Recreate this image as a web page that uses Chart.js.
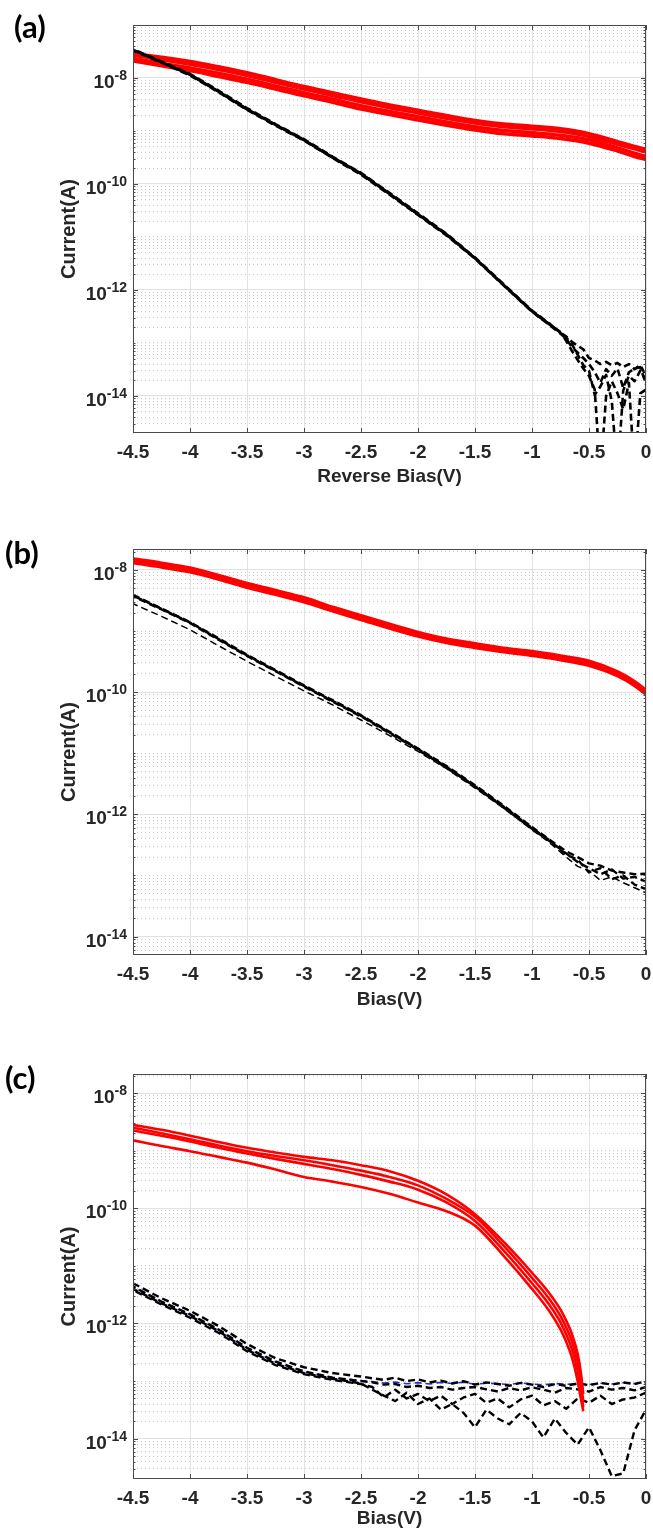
<!DOCTYPE html>
<html>
<head>
<meta charset="utf-8">
<title>Dark and photo current vs bias</title>
<script src="https://cdn.jsdelivr.net/npm/chart.js@4.4.1/dist/chart.umd.min.js"></script>
<style>
  html, body { margin: 0; padding: 0; background: #fff; }
  #page { position: relative; width: 653px; height: 1538px; overflow: hidden; background: #fff; }
  canvas { position: absolute; left: 0; }
  .tag { position: absolute; z-index: 2; font-family: Lato, "Open Sans", sans-serif; font-weight: 700;
         font-size: 31px; line-height: 31px; color: #000; }
</style>
</head>
<body>
<div id="page">
  <canvas id="panelA" width="653" height="500" style="top:0px"></canvas>
  <canvas id="panelB" width="653" height="520" style="top:500px"></canvas>
  <canvas id="panelC" width="653" height="518" style="top:1020px"></canvas>
  <div class="tag" style="left:14px;top:11px">(a)</div>
  <div class="tag" style="left:5px;top:537px">(b)</div>
  <div class="tag" style="left:5px;top:1062px">(c)</div>
</div>
<script>
// ---- axis ticks ----
const biasTicks = [-4.5, -4, -3.5, -3, -2.5, -2, -1.5, -1, -0.5, 0];
const labelledDecades = [-14, -12, -10, -8];

// ---- panel (a): reverse bias sweep ----
const biasPhoto = [-4.5, -4.25, -4, -3.75, -3.5, -3.25, -3, -2.75, -2.5, -2.25, -2, -1.75, -1.5, -1.25, -1, -0.75, -0.5, -0.25, -0.1, 0];
const photoA1 = [2.9e-8, 2.45e-8, 2.04e-8, 1.62e-8, 1.26e-8, 9.3e-9, 6.9e-9, 5.25e-9, 4.0e-9, 3.1e-9, 2.45e-9, 1.95e-9, 1.58e-9, 1.35e-9, 1.23e-9, 1.1e-9, 8.9e-10, 6.3e-10, 5.1e-10, 4.5e-10];
const photoA2 = [2.7e-8, 2.24e-8, 1.82e-8, 1.45e-8, 1.12e-8, 8.3e-9, 6.2e-9, 4.7e-9, 3.55e-9, 2.75e-9, 2.19e-9, 1.74e-9, 1.41e-9, 1.2e-9, 1.1e-9, 9.8e-10, 7.9e-10, 5.6e-10, 4.6e-10, 4.0e-10];
const photoA3 = [2.34e-8, 1.9e-8, 1.55e-8, 1.23e-8, 9.5e-9, 7.1e-9, 5.25e-9, 4.0e-9, 3.0e-9, 2.34e-9, 1.86e-9, 1.48e-9, 1.2e-9, 1.02e-9, 9.3e-10, 8.3e-10, 6.8e-10, 4.8e-10, 3.8e-10, 3.3e-10];
const photoA4 = [2.1e-8, 1.7e-8, 1.38e-8, 1.07e-8, 8.3e-9, 6.2e-9, 4.6e-9, 3.5e-9, 2.6e-9, 2.04e-9, 1.62e-9, 1.29e-9, 1.05e-9, 8.9e-10, 8.1e-10, 7.2e-10, 5.9e-10, 4.2e-10, 3.3e-10, 2.9e-10];

const biasDarkA = [-4.5, -4.25, -4, -3.75, -3.5, -3.25, -3, -2.75, -2.5, -2.25, -2, -1.75, -1.5, -1.25, -1, -0.85, -0.75,
                   -0.7, -0.65, -0.6, -0.55, -0.5, -0.45, -0.4, -0.35, -0.3, -0.25, -0.2, -0.15, -0.1, -0.05, 0];
const darkA1 = [3.4e-8, 2.0e-8, 1.17e-8, 5.6e-9, 2.6e-9, 1.32e-9, 6.8e-10, 3.2e-10, 1.58e-10, 6.6e-11, 2.7e-11, 1.12e-11, 4.0e-12, 1.26e-12, 4.0e-13, 2.3e-13, 1.58e-13,
                1.32e-13, 1.05e-13, 8.9e-14, 7.6e-14, 5.2e-14, 4.7e-14, 4.0e-14, 4.4e-14, 3.8e-14, 4.2e-14, 3.5e-14, 4.0e-14, 3.2e-14, 3.8e-14, 2.4e-14];
const darkA2 = [3.3e-8, 1.95e-8, 1.12e-8, 5.4e-9, 2.5e-9, 1.26e-9, 6.6e-10, 3.1e-10, 1.5e-10, 6.3e-11, 2.6e-11, 1.07e-11, 3.9e-12, 1.22e-12, 3.9e-13, 2.2e-13, 1.5e-13,
                1.2e-13, 8.3e-14, 6.6e-14, 5.2e-14, 4.0e-14, 2.8e-14, 1.78e-14, 3.2e-14, 2.4e-14, 3.3e-14, 1.41e-14, 2.8e-14, 3.3e-14, 3.5e-14, 1.66e-14];
const darkA3 = [3.5e-8, 2.05e-8, 1.2e-8, 5.8e-9, 2.7e-9, 1.35e-9, 7.0e-10, 3.3e-10, 1.62e-10, 6.8e-11, 2.8e-11, 1.15e-11, 4.1e-12, 1.3e-12, 4.1e-13, 2.35e-13, 1.55e-13,
                1.1e-13, 7.1e-14, 4.8e-14, 3.3e-14, 2.4e-14, 1.32e-14, 3.2e-16, 1.0e-14, 1.9e-14, 1.12e-14, 5.6e-15, 1.78e-14, 3.2e-16, 1.12e-14, 1.32e-14];
const darkA4 = [3.4e-8, 1.98e-8, 1.15e-8, 5.5e-9, 2.55e-9, 1.3e-9, 6.7e-10, 3.15e-10, 1.55e-10, 6.5e-11, 2.65e-11, 1.1e-11, 3.95e-12, 1.24e-12, 3.95e-13, 2.25e-13, 1.6e-13,
                1.26e-13, 9.5e-14, 6.0e-14, 3.8e-14, 3.0e-14, 1.05e-14, 1.51e-14, 2.5e-14, 7.9e-15, 3.2e-16, 1.26e-14, 2.4e-14, 1.9e-14, 3.0e-14, 2.0e-14];

// ---- panel (b) ----
const photoB1 = [1.51e-8, 1.29e-8, 1.07e-8, 8.1e-9, 6.0e-9, 4.6e-9, 3.5e-9, 2.45e-9, 1.78e-9, 1.29e-9, 9.5e-10, 7.4e-10, 6.2e-10, 5.2e-10, 4.6e-10, 3.9e-10, 3.2e-10, 2.14e-10, 1.48e-10, 1.07e-10];
const photoB2 = [1.41e-8, 1.2e-8, 1.0e-8, 7.6e-9, 5.6e-9, 4.3e-9, 3.2e-9, 2.3e-9, 1.66e-9, 1.2e-9, 8.9e-10, 6.9e-10, 5.75e-10, 4.9e-10, 4.3e-10, 3.6e-10, 2.95e-10, 2.0e-10, 1.38e-10, 1.0e-10];
const photoB3 = [1.32e-8, 1.12e-8, 9.3e-9, 7.1e-9, 5.2e-9, 4.0e-9, 3.0e-9, 2.14e-9, 1.55e-9, 1.12e-9, 8.3e-10, 6.5e-10, 5.4e-10, 4.6e-10, 4.0e-10, 3.4e-10, 2.75e-10, 1.86e-10, 1.29e-10, 9.3e-11];

const biasDarkB = [-4.5, -4.25, -4, -3.75, -3.5, -3.25, -3, -2.75, -2.5, -2.25, -2, -1.75, -1.5, -1.25, -1, -0.85,
                   -0.7, -0.6, -0.5, -0.4, -0.3, -0.2, -0.1, 0];
const darkB1 = [3.9e-9, 2.35e-9, 1.4e-9, 7.6e-10, 4.1e-10, 2.3e-10, 1.29e-10, 7.4e-11, 4.2e-11, 2.25e-11, 1.2e-11, 6.2e-12, 3.0e-12, 1.4e-12, 6.2e-13, 3.9e-13,
                2.5e-13, 2.0e-13, 1.58e-13, 1.45e-13, 1.2e-13, 1.12e-13, 1.05e-13, 1.07e-13];
const darkB2 = [3.7e-9, 2.25e-9, 1.35e-9, 7.2e-10, 3.9e-10, 2.2e-10, 1.23e-10, 7.0e-11, 4.0e-11, 2.14e-11, 1.14e-11, 5.8e-12, 2.85e-12, 1.3e-12, 5.8e-13, 3.7e-13,
                2.3e-13, 1.66e-13, 1.32e-13, 1.05e-13, 1.26e-13, 8.9e-14, 9.5e-14, 7.9e-14];
const darkB3 = [3.8e-9, 2.3e-9, 1.38e-9, 7.4e-10, 4.0e-10, 2.24e-10, 1.26e-10, 7.2e-11, 4.1e-11, 2.19e-11, 1.17e-11, 6.0e-12, 2.9e-12, 1.35e-12, 6.0e-13, 3.8e-13,
                2.19e-13, 1.82e-13, 1.12e-13, 1.32e-13, 8.7e-14, 1.0e-13, 7.1e-14, 6.0e-14];
const darkB4 = [2.8e-9, 1.74e-9, 1.05e-9, 5.75e-10, 3.2e-10, 1.82e-10, 1.05e-10, 6.2e-11, 3.5e-11, 1.95e-11, 1.07e-11, 5.6e-12, 2.7e-12, 1.26e-12, 5.6e-13, 3.5e-13,
                2.0e-13, 1.41e-13, 1.2e-13, 8.3e-14, 9.5e-14, 7.6e-14, 6.3e-14, 5.2e-14];

// ---- panel (c) ----
const biasPhotoC = [-4.5, -4.25, -4, -3.75, -3.5, -3.25, -3, -2.75, -2.5, -2.25, -2, -1.75, -1.5, -1.25, -1, -0.85, -0.75, -0.7, -0.65, -0.6, -0.57, -0.55];
const photoC1 = [2.8e-9, 2.3e-9, 1.82e-9, 1.41e-9, 1.12e-9, 9.3e-10, 7.8e-10, 6.8e-10, 5.6e-10, 4.4e-10, 3.0e-10, 1.74e-10, 7.9e-11, 2.63e-11, 7.6e-12, 3.39e-12, 1.74e-12, 1.12e-12, 6.6e-13, 3.0e-13, 1.35e-13, 6.0e-14];
const photoC2 = [2.5e-9, 2.0e-9, 1.58e-9, 1.23e-9, 9.8e-10, 8.1e-10, 6.8e-10, 5.6e-10, 4.5e-10, 3.5e-10, 2.5e-10, 1.45e-10, 7.1e-11, 2.24e-11, 6.2e-12, 2.7e-12, 1.35e-12, 8.5e-13, 4.9e-13, 2.14e-13, 9.3e-14, 4.4e-14];
const photoC3 = [2.24e-9, 1.82e-9, 1.45e-9, 1.12e-9, 8.9e-10, 7.2e-10, 5.9e-10, 4.8e-10, 3.8e-10, 2.9e-10, 2.1e-10, 1.26e-10, 6.0e-11, 1.86e-11, 5.0e-12, 2.14e-12, 1.05e-12, 6.5e-13, 3.6e-13, 1.51e-13, 6.6e-14, 3.5e-14];
const photoC4 = [1.51e-9, 1.2e-9, 9.8e-10, 7.8e-10, 6.2e-10, 4.7e-10, 3.5e-10, 2.9e-10, 2.34e-10, 1.78e-10, 1.26e-10, 8.9e-11, 5.0e-11, 1.51e-11, 4.0e-12, 1.66e-12, 7.9e-13, 4.8e-13, 2.57e-13, 1.02e-13, 4.8e-14, 3.0e-14];

const biasDarkC = [-4.5, -4.25, -4, -3.75, -3.5, -3.25, -3, -2.75, -2.5,
                   -2.4, -2.3, -2.2, -2.1, -2, -1.9, -1.8, -1.7, -1.6, -1.5, -1.4, -1.3, -1.2, -1.1, -1, -0.9, -0.8, -0.7, -0.6, -0.5, -0.4, -0.3, -0.2, -0.1, 0];
const darkC1 = [5.0e-12, 2.75e-12, 1.66e-12, 9.1e-13, 4.4e-13, 2.5e-13, 1.74e-13, 1.38e-13, 1.2e-13,
                1.12e-13, 1.05e-13, 1.15e-13, 1.0e-13, 1.07e-13, 9.5e-14, 1.02e-13, 9.1e-14, 1.0e-13, 8.7e-14, 9.5e-14, 8.9e-14, 8.3e-14, 9.3e-14, 8.7e-14, 7.9e-14, 8.9e-14, 8.3e-14, 9.1e-14, 8.5e-14, 9.3e-14, 8.7e-14, 9.5e-14, 8.9e-14, 1.0e-13];
const darkC2 = [4.4e-12, 2.4e-12, 1.45e-12, 7.9e-13, 3.8e-13, 2.19e-13, 1.48e-13, 1.15e-13, 1.0e-13,
                9.5e-14, 8.7e-14, 8.9e-14, 7.9e-14, 8.3e-14, 7.6e-14, 7.9e-14, 7.1e-14, 7.6e-14, 7.9e-14, 7.2e-14, 6.6e-14, 7.6e-14, 6.9e-14, 7.8e-14, 7.1e-14, 6.3e-14, 7.6e-14, 7.2e-14, 6.6e-14, 7.9e-14, 7.1e-14, 7.6e-14, 6.9e-14, 7.9e-14];
const darkC3 = [3.8e-12, 2.14e-12, 1.26e-12, 6.9e-13, 3.3e-13, 1.9e-13, 1.32e-13, 1.05e-13, 8.9e-14,
                7.9e-14, 5.2e-14, 7.1e-14, 5.0e-14, 6.0e-14, 4.5e-14, 5.6e-14, 4.0e-14, 5.2e-14, 6.0e-14, 4.2e-14, 5.0e-14, 3.5e-14, 4.8e-14, 5.6e-14, 3.8e-14, 4.5e-14, 3.3e-14, 5.0e-14, 4.2e-14, 5.6e-14, 4.0e-14, 4.8e-14, 5.2e-14, 6.3e-14];
const darkC4 = [4.0e-12, 2.24e-12, 1.35e-12, 7.4e-13, 3.5e-13, 2.0e-13, 1.38e-13, 1.1e-13, 9.1e-14,
                7.1e-14, 5.6e-14, 4.5e-14, 6.3e-14, 4.0e-14, 5.0e-14, 3.2e-14, 4.0e-14, 2.8e-14, 1.58e-14, 3.2e-14, 2.24e-14, 1.78e-14, 2.8e-14, 2.0e-14, 1.05e-14, 2.24e-14, 1.26e-14, 7.9e-15, 1.58e-14, 6.3e-15, 2.24e-15, 2.5e-15, 1.41e-14, 3.2e-14];
const darkC5 = [4.3e-12, 2.4e-12, 1.42e-12, 7.8e-13, 3.7e-13, 2.15e-13, 1.45e-13, 1.15e-13, 1.02e-13,
                9.8e-14, 9.3e-14, 9.6e-14, 9.0e-14, 9.4e-14, 8.9e-14, 9.5e-14, 9.1e-14, 9.6e-14, 8.8e-14, 9.2e-14, 9.0e-14, 8.7e-14, 9.3e-14, 8.9e-14, 8.6e-14, 9.1e-14, 8.8e-14, 9.0e-14, 8.7e-14, 9.2e-14, 8.9e-14, 9.4e-14, 9.0e-14, 9.5e-14];

// ---- drawing helpers ----
const FONT = '"Liberation Sans", Arial, sans-serif';
const INK = '#262626';
const RED = '#ff0000';

function series(xs, ys, style) {
  return Object.assign({
    data: ys.map((y, i) => ({ x: xs[i], y: y })),
    pointRadius: 0,
    pointHoverRadius: 0,
    fill: false,
    borderJoinStyle: 'round'
  }, style);
}
function photo(xs, ys, width, order) {
  return series(xs, ys, { borderColor: RED, borderWidth: width, cubicInterpolationMode: 'monotone', order: order });
}
function dark(xs, ys, width, offset, order, color) {
  return series(xs, ys, { borderColor: color || '#000', borderWidth: width, borderDash: [7, 4],
    borderDashOffset: offset, tension: 0, order: order });
}

// log ticks: 1..9 x 10^n inside the range, decades in labelledDecades are major
function logTicks(min, max) {
  const out = [];
  for (let e = Math.floor(Math.log10(min)); e <= Math.ceil(Math.log10(max)); e++) {
    for (let m = 1; m <= 9; m++) {
      const v = Number(m + 'e' + e);
      if (v > min * 1.0001 && v < max * 0.9999) {
        out.push({ value: v, major: m === 1 && labelledDecades.includes(e) });
      }
    }
  }
  return out;
}

// box, inward tick marks and 10^n labels
const framePlugin = {
  id: 'frame',
  afterDatasetsDraw(chart) {
    const { ctx, chartArea: a, scales: { x, y } } = chart;
    ctx.save();
    ctx.strokeStyle = '#4a4a4a';
    ctx.lineWidth = 1;
    ctx.beginPath();
    x.ticks.forEach(t => {
      const px = Math.round(x.getPixelForValue(t.value)) + 0.5;
      ctx.moveTo(px, a.bottom); ctx.lineTo(px, a.bottom - 5);
      ctx.moveTo(px, a.top); ctx.lineTo(px, a.top + 5);
    });
    y.ticks.forEach(t => {
      const py = Math.round(y.getPixelForValue(t.value)) + 0.5;
      const len = t.major ? 5 : 2.5;
      ctx.moveTo(a.left, py); ctx.lineTo(a.left + len, py);
      ctx.moveTo(a.right, py); ctx.lineTo(a.right - len, py);
    });
    ctx.stroke();
    ctx.strokeRect(Math.round(a.left) + 0.5, Math.round(a.top) + 0.5,
                   Math.round(a.right) - Math.round(a.left) - 1, Math.round(a.bottom) - Math.round(a.top) - 1);
    ctx.restore();
  },
  afterDraw(chart) {
    const { ctx, chartArea: a, scales: { y } } = chart;
    ctx.save();
    ctx.fillStyle = INK;
    ctx.textBaseline = 'alphabetic';
    ctx.textAlign = 'left';
    y.ticks.filter(t => t.major).forEach(t => {
      const py = y.getPixelForValue(t.value);
      const exp = String(Math.round(Math.log10(t.value)));
      ctx.font = 'bold 19px ' + FONT;
      const wb = ctx.measureText('10').width;
      ctx.font = 'bold 14px ' + FONT;
      const we = ctx.measureText(exp).width;
      const x0 = a.left - 6 - we - wb;
      ctx.font = 'bold 19px ' + FONT;
      ctx.fillText('10', x0, py + 10);
      ctx.font = 'bold 14px ' + FONT;
      ctx.fillText(exp, x0 + wb, py + 2);
    });
    ctx.restore();
  }
};

function panel(id, cfg) {
  const canvas = document.getElementById(id);
  const H = canvas.height;
  return new Chart(canvas, {
    type: 'line',
    data: { datasets: cfg.datasets },
    options: {
      responsive: false,
      animation: false,
      devicePixelRatio: 1,
      events: [],
      layout: { padding: { left: 0, right: 7, top: cfg.top, bottom: 0 } },
      plugins: { legend: { display: false }, tooltip: { enabled: false } },
      scales: {
        x: {
          type: 'linear', position: 'bottom', min: -4.5, max: 0,
          afterBuildTicks: s => { s.ticks = biasTicks.map(v => ({ value: v })); },
          afterFit: s => { s.height = H - cfg.top - cfg.plotH; s.paddingLeft = 0; s.paddingRight = 0; },
          ticks: { autoSkip: false, maxRotation: 0, padding: 8.5, color: INK,
                   font: { family: FONT, size: 19, weight: 'bold' }, callback: v => String(v) },
          grid: { color: '#e4e4e4', lineWidth: 1, drawTicks: false },
          border: { display: false },
          title: { display: true, text: cfg.xTitle, color: INK,
                   font: { family: FONT, size: 19, weight: 'bold' }, padding: { top: 0, bottom: cfg.xTitlePad } }
        },
        y: {
          type: 'logarithmic', position: 'left', min: cfg.yMin, max: cfg.yMax,
          afterBuildTicks: s => { s.ticks = logTicks(cfg.yMin, cfg.yMax); },
          afterFit: s => { s.width = 133; s.paddingTop = 0; s.paddingBottom = 0; },
          ticks: { display: false },
          grid: { color: c => (c.tick && c.tick.major) ? '#e2e2e2' : '#c8c8c8', lineWidth: 1, drawTicks: false },
          border: { display: false, dash: c => (c.tick && c.tick.major) ? [] : [1, 3] },
          title: { display: true, text: 'Current(A)', color: INK,
                   font: { family: FONT, size: 20, weight: 'bold' }, padding: { top: 57, bottom: 0 } }
        }
      }
    },
    plugins: [framePlugin]
  });
}

panel('panelA', {
  top: 25, plotH: 408, yMin: 2e-15, yMax: 1e-7, xTitle: 'Reverse Bias(V)', xTitlePad: 11.6,
  datasets: [
    dark(biasDarkA, darkA1, 2.6, 0, 0),
    dark(biasDarkA, darkA2, 2.6, 3, 0),
    dark(biasDarkA, darkA3, 2.6, 6, 0),
    dark(biasDarkA, darkA4, 2.6, 9, 0),
    photo(biasPhoto, photoA1, 3.6, 1),
    photo(biasPhoto, photoA2, 3.6, 1),
    photo(biasPhoto, photoA3, 3.6, 1),
    photo(biasPhoto, photoA4, 3.6, 1)
  ]
});

panel('panelB', {
  top: 49, plotH: 406, yMin: 5e-15, yMax: 2.2e-8, xTitle: 'Bias(V)', xTitlePad: 8.6,
  datasets: [
    photo(biasPhoto, photoB1, 3.6, 0),
    photo(biasPhoto, photoB2, 3.6, 0),
    photo(biasPhoto, photoB3, 3.6, 0),
    dark(biasDarkB, darkB1, 2.4, 0, 1),
    dark(biasDarkB, darkB2, 2.4, 4, 1),
    dark(biasDarkB, darkB3, 2.4, 8, 1),
    dark(biasDarkB, darkB4, 1.5, 2, 1)
  ]
});

panel('panelC', {
  top: 54, plotH: 405, yMin: 2e-15, yMax: 2.14e-8, xTitle: 'Bias(V)', xTitlePad: 7.6,
  datasets: [
    photo(biasPhotoC, photoC1, 2.6, 0),
    photo(biasPhotoC, photoC2, 2.6, 0),
    photo(biasPhotoC, photoC3, 2.6, 0),
    photo(biasPhotoC, photoC4, 2.6, 0),
    dark(biasDarkC, darkC1, 2.4, 0, 1),
    dark(biasDarkC, darkC2, 2.4, 4, 1),
    dark(biasDarkC, darkC3, 2.4, 8, 1),
    dark(biasDarkC, darkC4, 2.4, 2, 1),
    dark(biasDarkC, darkC5, 1.6, 5, 2, '#2b2bd0')
  ]
});
</script>
</body>
</html>
